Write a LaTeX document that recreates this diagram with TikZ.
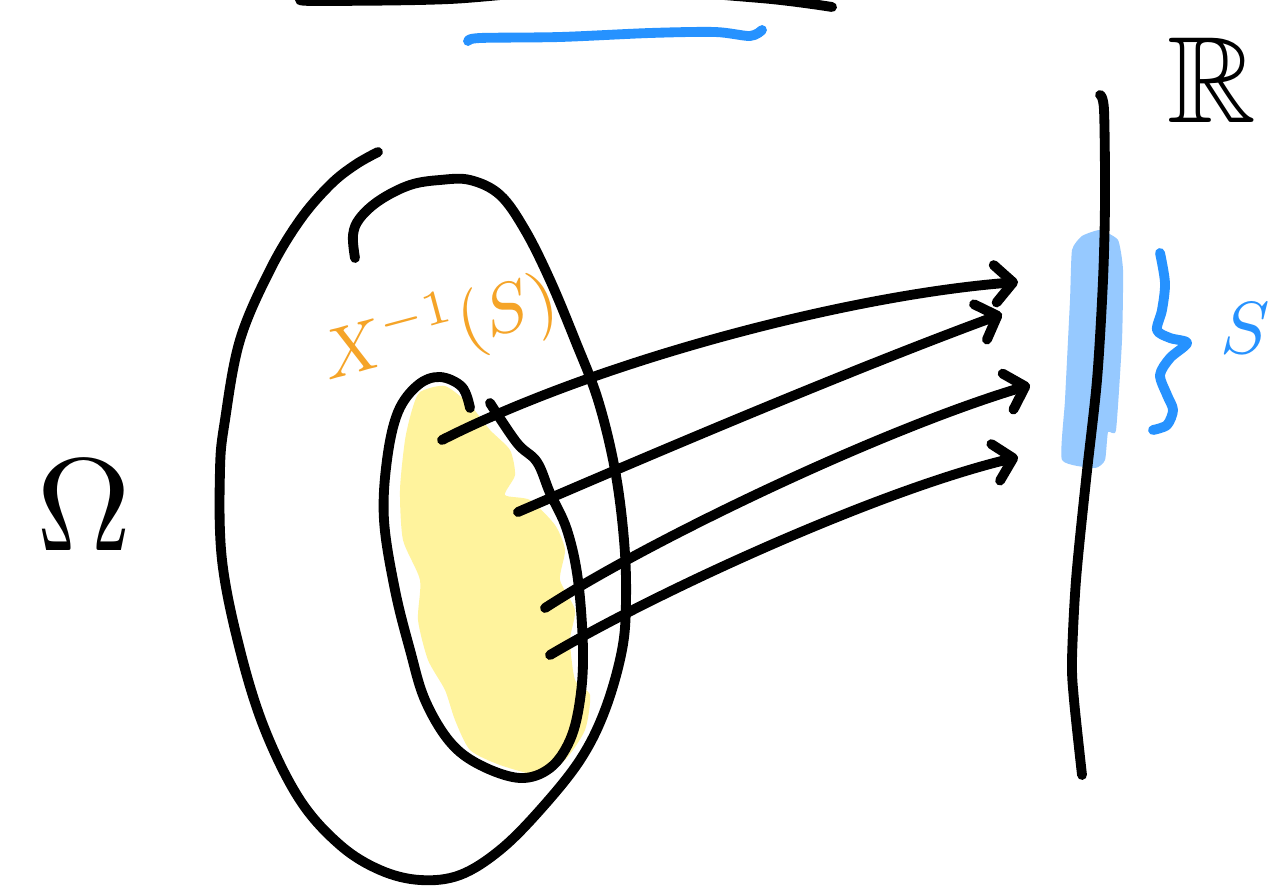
\documentclass[tikz,border=0pt]{standalone}
\usepackage{amssymb}
\usetikzlibrary{arrows.meta}
\definecolor{skyblue}{RGB}{38,146,255}
\definecolor{paleblue}{RGB}{150,201,255}
\definecolor{paleyellow}{RGB}{255,243,157}
\definecolor{orangeink}{RGB}{245,164,40}
\begin{document}
\begin{tikzpicture}[x=0.02cm,y=-0.02cm,
  pen/.style={line width=5.6pt, line cap=round, line join=round},
  bluepen/.style={pen, draw=skyblue},
  arr/.style={pen, -{Straight Barb[length=0.36cm,width=0.75cm,line cap=round,line join=round]}},
  lab/.style={inner sep=0pt}]
\clip (0,0) rectangle (1270,885);
\fill[white] (0,0) rectangle (1270,885);

% highlighted regions
\fill[paleyellow] plot[smooth cycle, tension=0.4] coordinates {(420,392)(445,386)(470,405)(490,430)(510,450)(515,475)(505,495)(530,500)(555,525)(565,550)(560,580)(575,610)(570,640)(575,680)(590,695)(585,730)(565,760)(540,775)(500,765)(470,750)(455,720)(445,690)(428,660)(418,620)(420,580)(403,540)(400,490)(405,440)(412,410)};
\fill[paleblue] plot[smooth cycle, tension=0.3] coordinates {(1072,250)(1082,236)(1100,230)(1118,240)(1123,270)(1122,340)(1116,430)(1108,432)(1105,460)(1095,468)(1062,460)(1065,400)(1070,300)};

% top strokes
\draw[pen] plot[smooth] coordinates {(300,0)(320,1)(450,-1)(600,-12)(760,-2)(832,7)};
\draw[bluepen] plot[smooth] coordinates {(468,41)(480,38)(560,37)(650,33)(715,32)(750,36)(762,30)};

% outer set
\draw[pen] plot[smooth, tension=0.6] coordinates {(378,152)(355,165)(330,185)(300,220)(270,270)(240,340)(225,420)(220,470)(222,560)(240,650)(265,730)(300,800)(340,845)(380,870)(420,880)(460,875)(500,850)(540,810)(580,760)(605,710)(622,650)(626,600)(624,540)(615,470)(598,400)(575,340)(550,280)(525,230)(500,195)(470,180)(440,180)(410,185)(380,200)(360,218)(353,235)(355,258)};

% inner set
\draw[pen] plot[smooth, tension=0.6] coordinates {(470,408)(462,387)(440,377)(418,385)(398,412)(387,460)(384,520)(395,590)(410,650)(425,700)(450,742)(480,765)(520,778)(550,768)(570,740)(580,700)(583,650)(578,580)(567,530)(550,493)(537,462)(517,443)(490,403)};

% real line
\draw[pen] plot[smooth] coordinates {(1100,95)(1104,110)(1105,200)(1103,280)(1097,380)(1086,480)(1076,580)(1072,660)(1074,700)(1082,775)};

% brace
\draw[bluepen] plot[smooth, tension=0.5] coordinates {(1160,253)(1165,283)(1162,310)(1157,330)(1170,338)(1187,343)(1170,358)(1160,375)(1167,395)(1173,410)(1167,425)(1153,430)};

% arrows
\coordinate (s1) at (442,440); \coordinate (e1) at (1018,282);
\coordinate (s2) at (518,512); \coordinate (e2) at (1002,314);
\coordinate (s3) at (545,608); \coordinate (e3) at (1030,385);
\coordinate (s4) at (550,655); \coordinate (e4) at (1018,457);
\draw[arr] (s1) .. controls (600,360) and (850,295) .. (e1);
\draw[arr] (s2) .. controls (650,455) and (850,370) .. (e2);
\draw[arr] (s3) .. controls (650,540) and (880,430) .. (e3);
\draw[arr] (s4) .. controls (660,590) and (880,490) .. (e4);

% labels
\node[lab, scale=7.5] (omega) at (84,505) {$\Omega$};
\node[lab, scale=7] (reals) at (1212,80) {$\mathbb{R}$};
\node[lab, text=orangeink, scale=4, rotate=15] (preimg) at (440,330) {$X^{-1}(S)$};
\node[lab, text=skyblue, scale=4.2] (slab) at (1245,328) {$S$};
\end{tikzpicture}
\end{document}
